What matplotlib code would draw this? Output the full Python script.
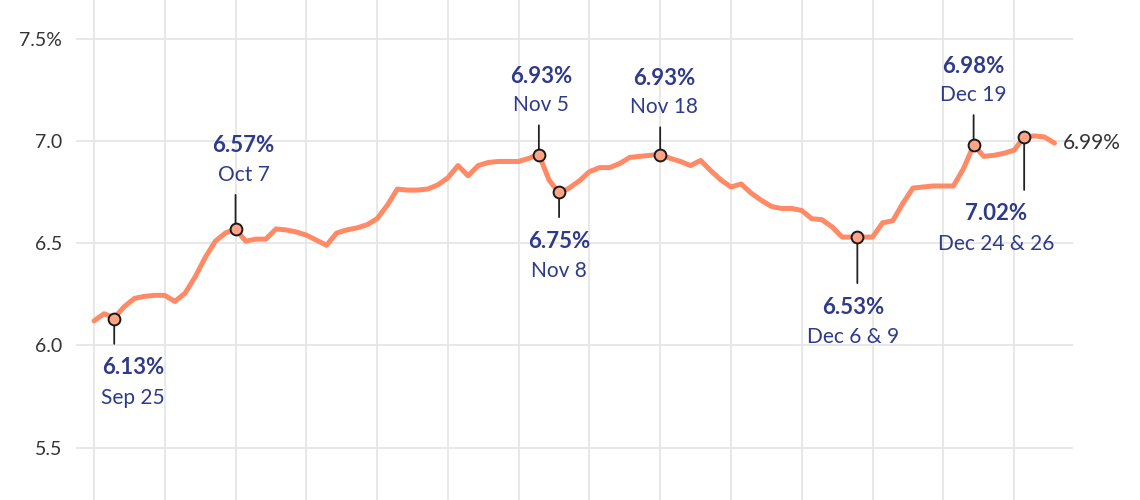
import matplotlib
matplotlib.use("Agg")
import matplotlib.pyplot as plt
import matplotlib.dates as mdates
import pandas as pd

# daily 30-year mortgage rate, Sep 23 - Dec 27, 2024
sep_rates = [6.12, 6.155, 6.135, 6.19, 6.23, 6.24, 6.245, 6.245]
oct_rates = [6.215, 6.255, 6.335, 6.43, 6.51, 6.55, 6.57, 6.51, 6.52, 6.52,
             6.57, 6.565, 6.555, 6.54, 6.515, 6.49, 6.55, 6.565, 6.575, 6.59,
             6.62, 6.685, 6.765, 6.76, 6.76, 6.765, 6.785, 6.82, 6.88, 6.83, 6.88]
nov_rates = [6.895, 6.90, 6.90, 6.90, 6.915, 6.935, 6.81, 6.745, 6.77, 6.805,
             6.85, 6.87, 6.87, 6.89, 6.92, 6.925, 6.93, 6.935, 6.915, 6.90,
             6.88, 6.905, 6.855, 6.81, 6.775, 6.79, 6.745, 6.71, 6.68, 6.67]
dec_rates = [6.67, 6.66, 6.62, 6.615, 6.58, 6.53, 6.53, 6.53, 6.53, 6.60,
             6.61, 6.695, 6.77, 6.775, 6.78, 6.78, 6.78, 6.865, 6.98, 6.925,
             6.93, 6.94, 6.955, 7.02, 7.025, 7.02, 6.99]
dates = pd.date_range("2024-09-23", "2024-12-27", freq="D")
rates = sep_rates + oct_rates + nov_rates + dec_rates

# callouts
note_dates = ["2024-09-25", "2024-10-07", "2024-11-06", "2024-11-08",
              "2024-11-18", "2024-12-07 12:00", "2024-12-19", "2024-12-24"]
note_values = [6.13, 6.57, 6.93, 6.75, 6.93, 6.53, 6.98, 7.02]
note_labels = ["Sep 25", "Oct 7", "Nov 5", "Nov 8", "Nov 18",
               "Dec 6 & 9", "Dec 19", "Dec 24 & 26"]
note_above = [False, True, True, False, True, False, True, False]
stem_px = [25, 34, 30, 25, 28, 46, 30, 53]
shift_px = [19, 8, 2, 0, 4, -4, 0, -28]

y_ticks = [5.5, 6.0, 6.5, 7.0, 7.5]
y_labels = ["5.5", "6.0", "6.5", "7.0", "7.5%"]

LINE = "#ff8a65"
NAVY = "#2f3b8a"
PT = 0.72  # points per pixel at dpi 100

plt.rcParams["font.family"] = ["Lato", "DejaVu Sans"]

fig = plt.figure(figsize=(11.4, 5.0), dpi=100)
ax = fig.add_axes([76 / 1140, 0, 997 / 1140, 1])

ax.plot(dates, rates, color=LINE, lw=3.6, solid_capstyle="round",
        solid_joinstyle="round", zorder=3)

for d, v, lab, up, stem, dx in zip(note_dates, note_values, note_labels,
                                   note_above, stem_px, shift_px):
    x = pd.Timestamp(d)
    sign = 1 if up else -1
    ax.annotate("", xy=(x, v), xytext=(0, sign * stem * PT),
                textcoords="offset points",
                arrowprops=dict(arrowstyle="-", color="#222222", lw=1.3,
                                shrinkA=0, shrinkB=0), zorder=4)
    ax.plot([x], [v], "o", ms=8.5, mfc="#ffa486", mec="#1a1a1a", mew=1.4,
            zorder=5)
    if up:
        off_date, off_val = stem + 20, stem + 49
    else:
        off_date, off_val = -(stem + 54), -(stem + 24)
    ax.annotate(f"{v:.2f}%", xy=(x, v), xytext=(dx * PT, off_val * PT),
                textcoords="offset points", ha="center", va="center",
                fontsize=16, fontweight="bold", color=NAVY)
    ax.annotate(lab, xy=(x, v), xytext=(dx * PT, off_date * PT),
                textcoords="offset points", ha="center", va="center",
                fontsize=15, color=NAVY)

ax.annotate(f"{rates[-1]:.2f}%", xy=(dates[-1], rates[-1]),
            xytext=(8 * PT, 0), textcoords="offset points",
            ha="left", va="center", fontsize=15, color="#333333",
            annotation_clip=False)

start = pd.Timestamp("2024-09-23")
ax.set_xlim(start - pd.Timedelta(days=1.78), start + pd.Timedelta(days=96.83))
ax.set_ylim(5.2436, 7.690)

ax.xaxis.set_major_locator(mdates.WeekdayLocator(byweekday=mdates.MO))
ax.set_xticklabels([])
ax.set_yticks(y_ticks)
ax.set_yticklabels(y_labels)
ax.tick_params(length=0, labelsize=14, labelcolor="#333333", pad=10)
ax.tick_params(axis="x", labelbottom=False)
ax.grid(color="#e6e6e6", lw=1.3)
ax.set_axisbelow(True)
for s in ax.spines.values():
    s.set_visible(False)

fig.savefig("out.png", dpi=100)
